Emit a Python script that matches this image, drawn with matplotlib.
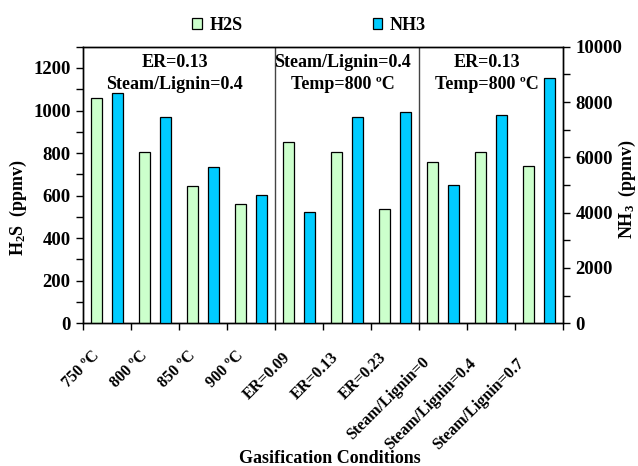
import matplotlib
matplotlib.use('Agg')
import matplotlib.pyplot as plt
import numpy as np
from matplotlib.transforms import offset_copy
from matplotlib.patches import Patch

categories = ['750 ºC', '800 ºC', '850 ºC', '900 ºC', 'ER=0.09', 'ER=0.13', 'ER=0.23',
              'Steam/Lignin=0', 'Steam/Lignin=0.4', 'Steam/Lignin=0.7']
h2s = [1060, 807, 644, 561, 850, 807, 539, 758, 807, 741]
nh3 = [8310, 7470, 5660, 4650, 4010, 7470, 7650, 4990, 7520, 8860]
group_texts = ['ER=0.13\nSteam/Lignin=0.4', 'Steam/Lignin=0.4\nTemp=800 ºC', 'ER=0.13\nTemp=800 ºC']
group_bounds = [(0, 4), (4, 7), (7, 10)]
h2s_ticks = [0, 200, 400, 600, 800, 1000, 1200]
nh3_ticks = [0, 2000, 4000, 6000, 8000, 10000]

plt.rcParams['font.family'] = ['Liberation Serif', 'DejaVu Serif']
plt.rcParams['font.weight'] = 'bold'
plt.rcParams['mathtext.fontset'] = 'custom'
plt.rcParams['mathtext.rm'] = 'Liberation Serif:bold'
plt.rcParams['mathtext.bf'] = 'Liberation Serif:bold'
plt.rcParams['mathtext.it'] = 'Liberation Serif:bold'
plt.rcParams['mathtext.default'] = 'bf'

GREEN = '#CCFFCC'
BLUE = '#00CCFF'

fig = plt.figure(figsize=(6.38, 4.66), dpi=100)
ax = fig.add_axes([83 / 638, 1 - 323.3 / 466, 480 / 638, 276.6 / 466])
ax2 = ax.twinx()

n = len(categories)
x = np.arange(n) + 0.5
w = 0.23
ax.bar(x - 0.22, h2s, w, color=GREEN, edgecolor='black', linewidth=0.9, zorder=3)
ax2.bar(x + 0.22, nh3, w, color=BLUE, edgecolor='black', linewidth=0.9, zorder=3)

ax.set_xlim(0, n)
ax.set_ylim(0, 1300)
ax2.set_ylim(0, 10000)

ax.set_yticks(h2s_ticks)
ax.set_yticks(np.arange(100, 1301, 100), minor=True)
ax2.set_yticks(nh3_ticks)
ax2.set_yticks(np.arange(1000, 10001, 1000), minor=True)
ax.set_xticks(np.arange(0, n + 1))
ax.set_xticklabels([])

for a in (ax, ax2):
    a.tick_params(axis='both', which='both', direction='out', length=5, width=1, labelsize=13.5)
    for s in a.spines.values():
        s.set_linewidth(1)
ax.tick_params(axis='y', pad=4)
ax2.tick_params(axis='y', pad=4)

for b in (4, 7):
    ax.axvline(b, color='#444444', linewidth=1, zorder=2)

for (a0, a1), txt in zip(group_bounds, group_texts):
    ax.text((a0 + a1) / 2 - 0.09, 0.974, txt, transform=ax.get_xaxis_transform(),
            ha='center', va='top', fontsize=13, fontweight='bold', linespacing=1.38)

# rotated category labels
fig.canvas.draw()
renderer = fig.canvas.get_renderer()
for xi, lab in zip(x, categories):
    tmp = ax.text(0, 0, lab, fontsize=11.5, fontweight='bold')
    L = tmp.get_window_extent(renderer).width
    tmp.remove()
    dx = -17 - 0.1 * (L - 60)
    dy = -(26 + 0.095 * (L - 60))
    tr = offset_copy(ax.get_xaxis_transform(), fig=fig, x=dx, y=dy, units='dots')
    ax.text(xi, 0, lab, transform=tr, rotation=45, rotation_mode='anchor',
            ha='right', va='top', fontsize=11.5, fontweight='bold')

ax.set_ylabel('H$_2$S  (ppmv)', fontsize=13, fontweight='bold')
ax2.set_ylabel('NH$_3$  (ppmv)', fontsize=13, fontweight='bold')
ax.yaxis.set_label_coords(-0.113, 0.419)
ax2.yaxis.set_label_coords(1.113, 0.486)

fig.text(330 / 638, 3 / 466, 'Gasification Conditions', ha='center', va='baseline',
         fontsize=13, fontweight='bold')

handles = [Patch(facecolor=GREEN, edgecolor='black', linewidth=0.9, label='H2S'),
           Patch(facecolor=BLUE, edgecolor='black', linewidth=0.9, label='NH3')]
fig.legend(handles=handles, loc='center', bbox_to_anchor=(309 / 638, 1 - 25 / 466), ncol=2,
           frameon=False, fontsize=13, handlelength=0.55, handleheight=0.55,
           handletextpad=0.4, columnspacing=7.2, borderaxespad=0)

fig.savefig('out.png', dpi=100)
